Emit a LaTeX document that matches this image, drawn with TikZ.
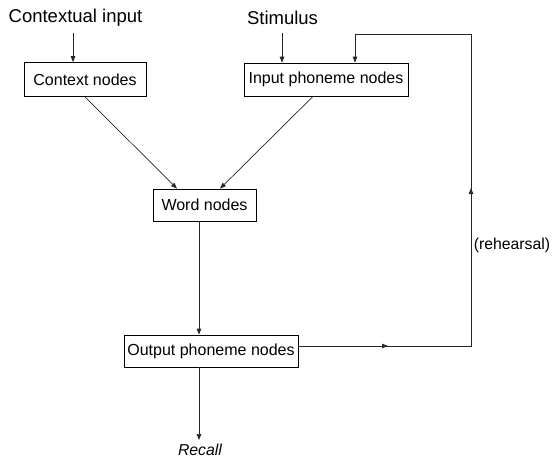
\documentclass[tikz,border=0pt]{standalone}
\usepackage{fontspec}
\setmainfont{Liberation Sans}
\usetikzlibrary{arrows.meta}
\tikzset{
  box/.style={draw, line width=0.7pt, inner sep=0pt, font=\fontsize{16}{18}\selectfont},
  toplabel/.style={inner sep=0pt, font=\fontsize{18.5}{20}\selectfont},
  sidelabel/.style={inner sep=0pt, font=\fontsize{15.8}{18}\selectfont},
  link/.style={line width=0.7pt, draw=black!85},
  arr/.style={link, -{Triangle[length=6pt,width=4.5pt]}},
}
\begin{document}
\begin{tikzpicture}[x=1pt,y=-1pt]
\useasboundingbox (0,0) rectangle (553,458);

% labels feeding the network
\node[toplabel] (ctxin) at (75.5,18) {Contextual input};
\node[toplabel] (stim) at (282.5,18) {Stimulus};

% node layers
\node[box, minimum width=122pt, minimum height=34pt] (ctx) at (85,79.5) {Context nodes};
\node[box, minimum width=164pt, minimum height=33pt] (inp) at (326,79.5) {Input phoneme nodes};
\node[box, minimum width=103pt, minimum height=32pt] (word) at (204.5,205) {Word nodes};
\node[box, minimum width=174pt, minimum height=32pt] (out) at (211,351) {Output phoneme nodes};
\node[sidelabel] (reh) at (512,245) {(rehearsal)};
\node[sidelabel, anchor=base] (recall) at (200,455) {\itshape Recall};

% helper coordinates for connector columns and rows
\coordinate (cx) at (73,33);
\coordinate (sx) at (282,33);
\coordinate (fx) at (355,34);
\coordinate (rx) at (471,34);
\coordinate (wx) at (199,0);
\coordinate (oy) at (0,346);
\coordinate (w1) at (177,0);
\coordinate (w2) at (220,0);
\coordinate (c1) at (85,0);
\coordinate (i1) at (313,0);
\coordinate (rc) at (199,440);

% inputs
\draw[arr] (cx) -- (ctx.north -| cx);
\draw[arr] (sx) -- (inp.north -| sx);

% converging onto word nodes
\draw[arr] (ctx.south -| c1) -- (word.north -| w1);
\draw[arr] (inp.south -| i1) -- (word.north -| w2);

% word nodes to output, output to recall
\draw[arr] (word.south -| wx) -- (out.north -| wx);
\draw[arr] (out.south -| wx) -- (rc);

% rehearsal loop
\draw[link] (out.east |- oy) -- (rx |- oy) -- (rx) -- (fx);
\draw[arr] (fx) -- (inp.north -| fx);
\draw[arr] (378,346) -- (388,346);
\draw[arr] (471,200) -- (471,188);
\end{tikzpicture}
\end{document}
